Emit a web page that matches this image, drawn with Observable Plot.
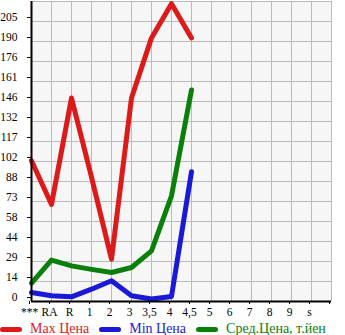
<!DOCTYPE html>
<html>
<head>
<meta charset="utf-8">
<script src="https://cdn.jsdelivr.net/npm/d3@7"></script>
<script src="https://cdn.jsdelivr.net/npm/@observablehq/plot@0.6"></script>
<style>
  html, body { margin: 0; padding: 0; background: white; }
  #chart svg { display: block; }
  #legend { display: flex; align-items: center; height: 18px; margin-top: 0;
    font-family: "Liberation Serif", serif; font-size: 14px; }
  .item { display: flex; align-items: center; margin-right: 10px; }
  .sw { width: 22px; height: 5px; border-radius: 3px; margin-right: 8px; }
</style>
</head>
<body>
<div id="chart"></div>
<div id="legend"></div>
<script>
const categories = ["***", "RA", "R", "1", "2", "3", "3,5", "4", "4,5", "5", "6", "7", "8", "9", "s"];
const yTickLabels = ["0", "14", "29", "44", "58", "73", "88", "102", "117", "132", "146", "161", "176", "190", "205"];
const yTop = 205;

const maxPrice = [103, 71, 149, 91, 31, 149, 193, 218, 193];
const minPrice = [6.6, 4.2, 3.4, 9, 15.2, 4.2, 1.8, 3.7, 95];
const avgPrice = [13.5, 30.3, 26.1, 23.5, 21.2, 24.9, 37.1, 77.4, 154.8];

const seriesNames = ["Max Цена", "Min Цена", "Сред.Цена, т.йен"];
const seriesColors = ["#dc1a1a", "#1a1ad6", "#0a800a"];
const seriesValues = [maxPrice, minPrice, avgPrice];

const step = yTop / (yTickLabels.length - 1);
const yTicks = yTickLabels.map((_, i) => i * step);
const yMax = step * yTickLabels.length;
const nX = categories.length + 1;

const rows = seriesValues.flatMap((vals, s) =>
  vals.map((v, i) => ({ series: seriesNames[s], i, v })));

const chart = Plot.plot({
  width: 345,
  height: 320,
  marginLeft: 31,
  marginRight: 14,
  marginTop: 1,
  marginBottom: 19,
  style: { fontFamily: "'Liberation Serif', serif", fontSize: "11.5px", background: "white", color: "black" },
  x: { type: "linear", domain: [0, nX - 1] },
  y: { domain: [0, yMax] },
  color: { domain: seriesNames, range: seriesColors },
  marks: [
    Plot.frame({ fill: "#f6f6f6", stroke: null }),
    Plot.gridX(d3.range(1, nX), { stroke: "#bbbbbb", strokeOpacity: 1, strokeWidth: 1 }),
    Plot.gridY([...yTicks.slice(1), yMax], { stroke: "#bbbbbb", strokeOpacity: 1, strokeWidth: 1 }),
    Plot.axisY(yTicks, { tickSize: 4, tickPadding: 10, dy: -4, tickFormat: (d, i) => yTickLabels[i], label: null }),
    Plot.axisX(d3.range(nX), { tickSize: 3, tickPadding: 3, dx: -2, tickFormat: (d) => categories[d] ?? "", label: null }),
    Plot.line(rows, { x: "i", y: "v", z: "series", stroke: "series", strokeWidth: 5, strokeLinejoin: "round", strokeLinecap: "round" }),
    Plot.ruleX([0], { stroke: "black", strokeWidth: 2 }),
    Plot.ruleY([0], { stroke: "black", strokeWidth: 2 })
  ]
});
document.getElementById("chart").append(chart);

const legend = document.getElementById("legend");
seriesNames.forEach((name, s) => {
  const item = document.createElement("div");
  item.className = "item";
  const sw = document.createElement("span");
  sw.className = "sw";
  sw.style.background = seriesColors[s];
  const t = document.createElement("span");
  t.textContent = name;
  t.style.color = seriesColors[s];
  item.append(sw, t);
  legend.append(item);
});
</script>
</body>
</html>
